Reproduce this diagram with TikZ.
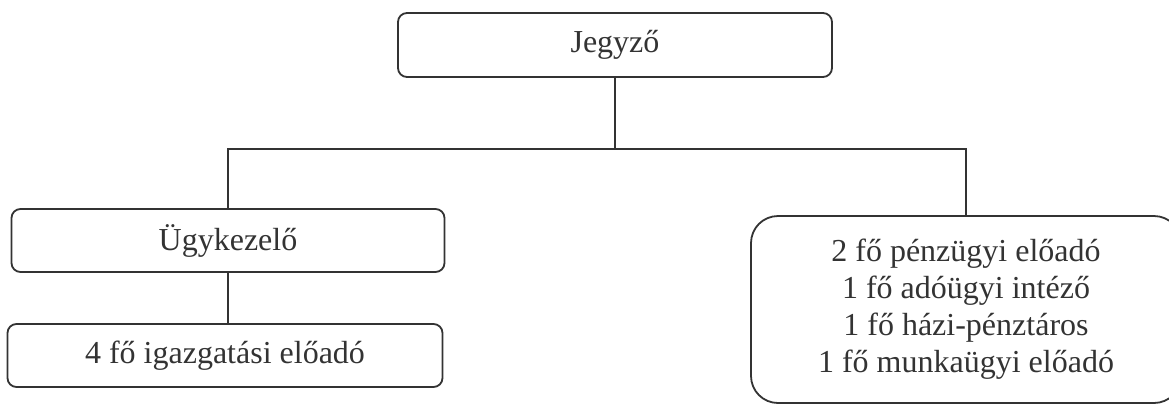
\documentclass[tikz,border=0pt]{standalone}
\usepackage{fontspec}
\setmainfont{Liberation Serif}
\definecolor{ink}{HTML}{333333}
\begin{document}
\begin{tikzpicture}[x=1pt,y=-1pt,
  orgbox/.style={draw=ink, line width=1.8pt, rounded corners=9pt, rectangle,
    inner sep=0pt, align=center, text=ink,
    font=\fontsize{32}{37}\selectfont},
  bigbox/.style={orgbox, rounded corners=27pt},
  wire/.style={draw=ink, line width=1.5pt}]
  \useasboundingbox (0,0) rectangle (1169,405);
  \clip (0,0) rectangle (1169,405);
  \node[orgbox, minimum width=434pt, minimum height=64pt] (jeg) at (615,45) {Jegyző};
  \node[orgbox, minimum width=433pt, minimum height=63pt] (ugy) at (228,240.5) {Ügykezelő};
  \node[orgbox, minimum width=435pt, minimum height=63pt] (ea) at (225,355.5) {4 fő igazgatási előadó};
  \node[bigbox, minimum width=430pt, minimum height=187pt] (jobb) at (966,309.5)
    {2 fő pénzügyi előadó\\1 fő adóügyi intéző\\1 fő házi-pénztáros\\1 fő munkaügyi előadó};
  \coordinate (bus) at (617,149);
  \draw[wire] (jeg.south) -- (jeg.south |- bus);
  \draw[wire] (ugy.north) |- (bus) -| (jobb.north);
  \draw[wire] (ugy.south) -- (ugy.south |- ea.north);
\end{tikzpicture}
\end{document}
